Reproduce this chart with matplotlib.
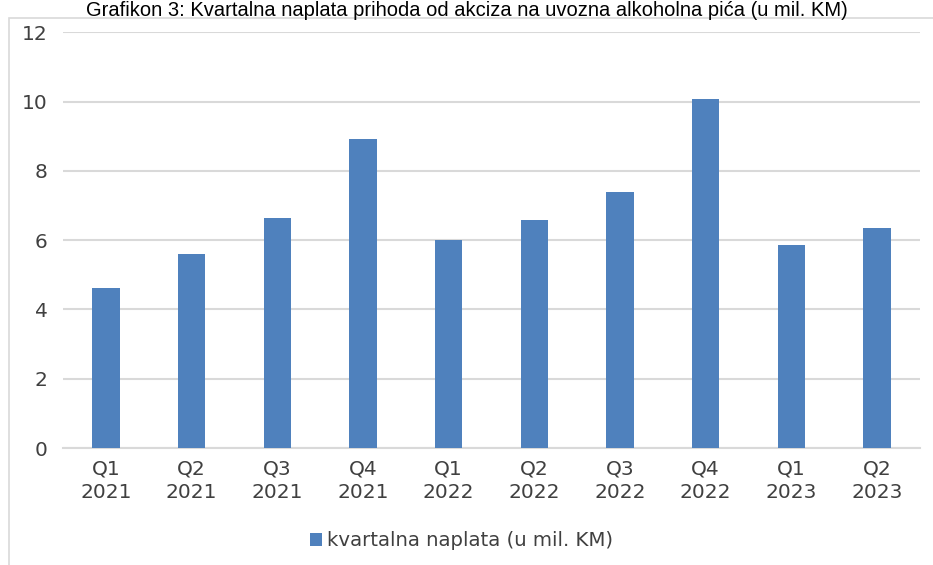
import numpy as np
import matplotlib.pyplot as plt
from matplotlib.patches import Rectangle

kvartali = ["Q1\n2021", "Q2\n2021", "Q3\n2021", "Q4\n2021", "Q1\n2022",
            "Q2\n2022", "Q3\n2022", "Q4\n2022", "Q1\n2023", "Q2\n2023"]
naplata = [4.61, 5.60, 6.65, 8.91, 5.99, 6.58, 7.38, 10.07, 5.87, 6.34]  # mil. KM

fig = plt.figure(figsize=(9.33, 5.65), dpi=100)
ax = fig.add_axes([0.0675, 0.207, 0.9185, 0.736])

x = np.arange(len(kvartali))
ax.bar(x, naplata, width=0.32, color="#4f81bd", label="kvartalna naplata (u mil. KM)", zorder=3)

ax.set_xlim(-0.5, len(kvartali) - 0.5)
ax.set_ylim(0, 12)
ax.set_yticks(range(0, 13, 2))
ax.set_xticks(x)
ax.set_xticklabels(kvartali, linespacing=1.3)
ax.tick_params(axis="both", length=0, colors="#404040", labelsize=14.5)
ax.tick_params(axis="y", pad=11)
ax.tick_params(axis="x", pad=8)
ax.grid(axis="y", color="#d9d9d9", linewidth=1.5, zorder=0)
for s in ["top", "right", "left"]:
    ax.spines[s].set_visible(False)
ax.spines["bottom"].set_color("#d9d9d9")
ax.spines["bottom"].set_linewidth(1.5)

leg = fig.legend(loc="center", bbox_to_anchor=(0.495, 0.043), frameon=False,
                 fontsize=14.2, handlelength=0.6, handleheight=0.6, handletextpad=0.25)
for t in leg.get_texts():
    t.set_color("#404040")

# okvir grafikona
fig.patches.append(Rectangle((9 / 933, -0.05), 1.1, 1 - 18 / 565 + 0.05,
                             transform=fig.transFigure, fill=False,
                             edgecolor="#d9d9d9", linewidth=1.2))

# naslov
fig.text(0.5, 0.998, "Grafikon 3: Kvartalna naplata prihoda od akciza na uvozna alkoholna pića (u mil. KM)",
         fontsize=14.5, family="Liberation Sans", ha="center", va="top", color="black")

fig.savefig("out.png", dpi=100)
